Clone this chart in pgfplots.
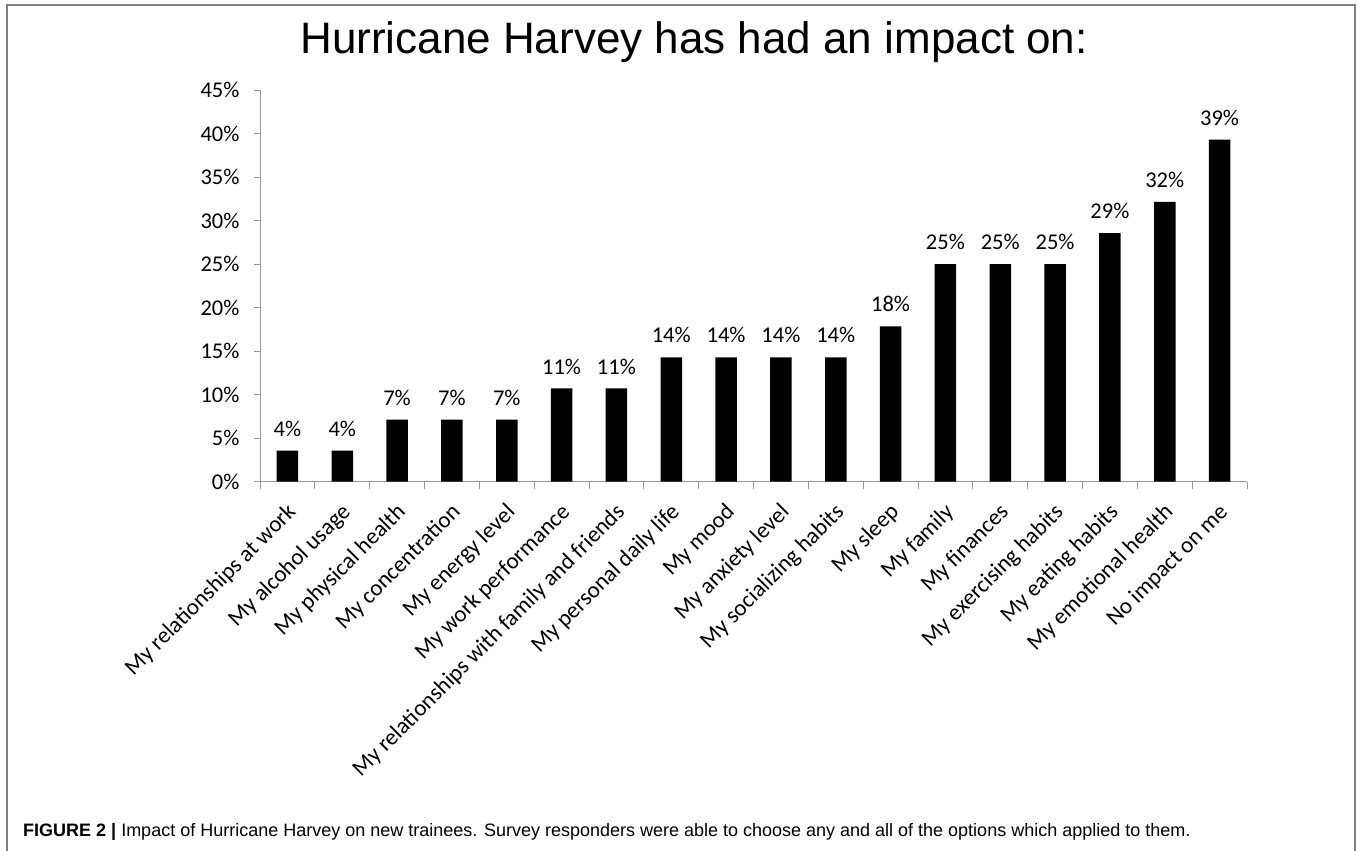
\documentclass[border=0pt]{standalone}
\usepackage{pgfplots}
\pgfplotsset{compat=1.18}
\usepackage{fontspec}
\setmainfont{Carlito}
\newfontfamily\arialfont{Liberation Sans}
\begin{document}
\begin{tikzpicture}[x=1pt,y=1pt]
\useasboundingbox (0pt,0pt) rectangle (1360pt,851pt);
\draw[black!50, line width=1.3pt] (7pt,-10pt) rectangle (1355pt,846pt);
\node[anchor=base, inner sep=0pt, font=\arialfont\fontsize{44}{50}\selectfont] at (694pt,797pt) {Hurricane Harvey has had an impact on:};
\node[anchor=base west, inner sep=0pt, font=\arialfont\fontsize{18}{21}\selectfont] at (23pt,14.5pt) {\textbf{FIGURE 2 |} Impact of Hurricane Harvey on new trainees. Survey responders were able to choose any and all of the options which applied to them.};
\begin{axis}[
  at={(260pt,369.3pt)}, anchor=south west,
  scale only axis, width=987pt, height=391.7pt,
  xmin=-0.5, xmax=17.5, ymin=0, ymax=45,
  axis x line=bottom, axis y line=left,
  axis line style={-, black!40, line width=0.9pt},
  tick align=outside,
  font=\fontsize{22.5}{26}\selectfont,
  /pgf/number format/assume math mode=true,
  ytick={0,5,...,45},
  yticklabel={\pgfmathprintnumber{\tick}\%},
  major tick length=6pt,
  minor tick length=7pt,
  every tick/.style={black!40, line width=0.9pt},
  yticklabel style={xshift=-11pt},
  xtick={0,...,17},
  major x tick style={draw=none},
  minor xtick={-0.5,0.5,...,17.5},
  xticklabels={My relationships at work, My alcohol usage, My physical health, My concentration, My energy level, My work performance, My relationships with family and friends, My personal daily life, My mood, My anxiety level, My socializing habits, My sleep, My family, My finances, My exercising habits, My eating habits, My emotional health, No impact on me},
  xticklabel style={yshift=-14pt, xshift=-2pt, rotate=45, anchor=north east, inner sep=0pt, font=\fontsize{23}{26}\selectfont},
  ybar, bar width=21.5pt,
  nodes near coords={\pgfmathprintnumber[fixed,precision=0]{\pgfplotspointmeta}\%},
  every node near coord/.append style={font=\fontsize{22.5}{26}\selectfont, inner sep=0pt, anchor=south, yshift=14pt},
]
\addplot[fill=black, draw=none] coordinates {
(0,3.571) (1,3.571) (2,7.143) (3,7.143) (4,7.143) (5,10.714) (6,10.714)
(7,14.286) (8,14.286) (9,14.286) (10,14.286) (11,17.857) (12,25) (13,25)
(14,25) (15,28.571) (16,32.143) (17,39.286)};
\end{axis}
\end{tikzpicture}
\end{document}
